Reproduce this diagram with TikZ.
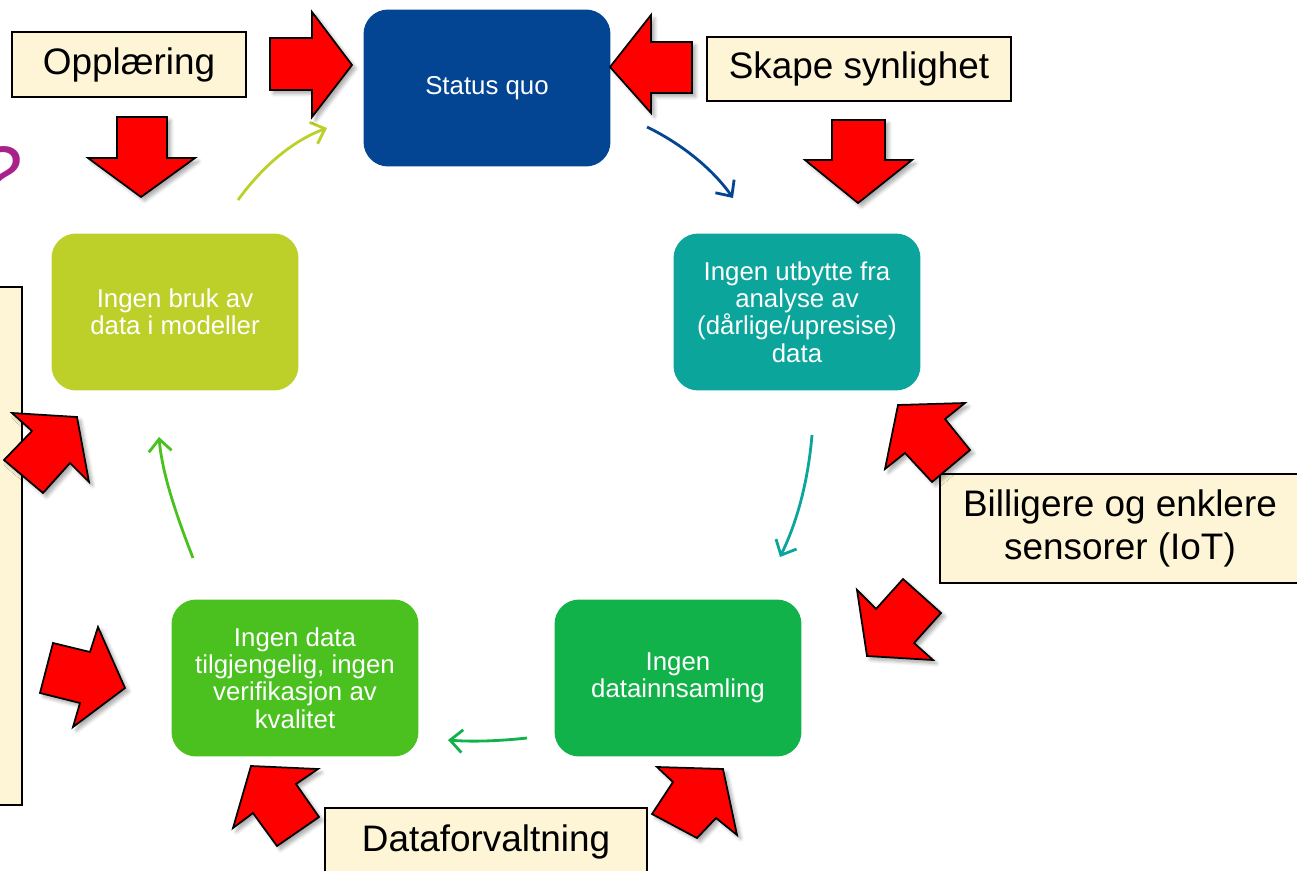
\documentclass[tikz,border=0pt]{standalone}
\usepackage{fontspec}
\setmainfont{Liberation Sans}
\usetikzlibrary{arrows.meta,shadows.blur}
\definecolor{sqblue}{RGB}{3,69,147}
\definecolor{tealc}{RGB}{11,165,155}
\definecolor{grnA}{RGB}{18,178,75}
\definecolor{grnB}{RGB}{74,193,31}
\definecolor{ygrn}{RGB}{189,208,42}
\definecolor{cream}{RGB}{253,245,214}
\definecolor{qpurple}{RGB}{168,34,140}
\begin{document}
\begin{tikzpicture}[x=0.02cm,y=-0.02cm,
 cyc/.style={rounded corners=14pt, minimum width=4.94cm, minimum height=3.14cm, text=white, align=center, font=\fontsize{14.7}{15.5}\selectfont, inner sep=0pt},
 lab/.style={draw=black, line width=1pt, fill=cream, font=\fontsize{21}{24.4}\selectfont, align=center, inner sep=0pt},
 redarrow/.style={fill=red, draw=black, line width=1pt, line join=miter, blur shadow={shadow blur steps=6, shadow xshift=2pt, shadow yshift=-2pt, shadow opacity=35}},
 conn/.style={line width=1.6pt, -{Straight Barb[length=7pt,width=13pt,line width=1.6pt]}}]
\useasboundingbox (0,0) rectangle (1297,871);
\clip (0,0) rectangle (1297,871);

% question mark fragment
\node[text=qpurple, font=\fontsize{44}{44}\selectfont\itshape, anchor=north east, inner sep=0pt] (q) at (21,146) {?};

% cycle boxes
\node[cyc, fill=sqblue] (sq) at (487,88) {Status quo};
\node[cyc, fill=tealc] (utb) at (797,312) {Ingen utbytte fra\\analyse av\\(dårlige/upresise)\\data};
\node[cyc, fill=grnA] (inns) at (678,678) {Ingen\\datainnsamling};
\node[cyc, fill=grnB] (tilg) at (295,678) {Ingen data\\tilgjengelig, ingen\\verifikasjon av\\kvalitet};
\node[cyc, fill=ygrn] (bruk) at (175,312) {Ingen bruk av\\data i modeller};

% label boxes
\node[lab, minimum width=4.68cm, minimum height=1.3cm] (opp) at (129,64.5) {Opplæring};
\node[lab, minimum width=6.08cm, minimum height=1.28cm] (skape) at (859,69) {Skape synlighet};
\node[lab, minimum width=7.2cm, minimum height=2.18cm] (bill) at (1120,528.5) {Billigere og enklere\\sensorer (IoT)};
\node[lab, minimum width=6.44cm, minimum height=1.36cm] (dataf) at (486,842) {Dataforvaltning};
\node[lab, minimum width=0.74cm, minimum height=10.36cm] (leftbox) at (3.5,546) {};

% connectors
\coordinate (c1a) at (238,200); \coordinate (c1b) at (327,128);
\coordinate (c2a) at (647,127); \coordinate (c2b) at (733,198);
\coordinate (c3a) at (812,435); \coordinate (c3b) at (780,557);
\coordinate (c4a) at (527,738); \coordinate (c4b) at (448,740);
\coordinate (c5a) at (193,558); \coordinate (c5b) at (159,437);
\draw[conn, color=ygrn] (c1a) .. controls (265,163) and (295,140) .. (c1b);
\draw[conn, color=sqblue] (c2a) .. controls (680,143) and (712,168) .. (c2b);
\draw[conn, color=tealc] (c3a) .. controls (808,482) and (797,522) .. (c3b);
\draw[conn, color=grnA] (c4a) .. controls (500,741) and (472,742) .. (c4b);
\draw[conn, color=grnB] (c5a) .. controls (175,512) and (162,472) .. (c5b);

% red block arrows
\draw[redarrow] (270,38) -- (312,38) -- (312,12) -- (352,65) -- (312,117) -- (312,90) -- (270,90) -- cycle;
\draw[redarrow] (692,42) -- (651,42) -- (651,15) -- (610,67) -- (651,113) -- (651,93) -- (692,93) -- cycle;
\draw[redarrow] (117,117) -- (167,117) -- (167,158) -- (195,158) -- (141,197) -- (88,158) -- (117,158) -- cycle;
\draw[redarrow] (832,120) -- (885,120) -- (885,160) -- (912,160) -- (858,203) -- (805,160) -- (832,160) -- cycle;
\draw[redarrow] (12,413) -- (77,417) -- (89,482) -- (70,463) -- (43,493) -- (4,460) -- (32,431) -- cycle;
\draw[redarrow] (53,643) -- (90,652) -- (98,627) -- (125,688) -- (73,727) -- (80,703) -- (40,693) -- cycle;
\draw[redarrow] (898,405) -- (965,403) -- (945,419) -- (970,450) -- (932,482) -- (905,453) -- (885,469) -- cycle;
\draw[redarrow] (857,590) -- (876,609) -- (903,579) -- (941,613) -- (914,643) -- (933,660) -- (867,656) -- cycle;
\draw[redarrow] (251,766) -- (318,769) -- (296,784) -- (319,817) -- (277,846) -- (253,813) -- (233,828) -- cycle;
\draw[redarrow] (657,767) -- (723,769) -- (737,835) -- (716,818) -- (697,838) -- (652,814) -- (673,782) -- cycle;
\end{tikzpicture}
\end{document}
